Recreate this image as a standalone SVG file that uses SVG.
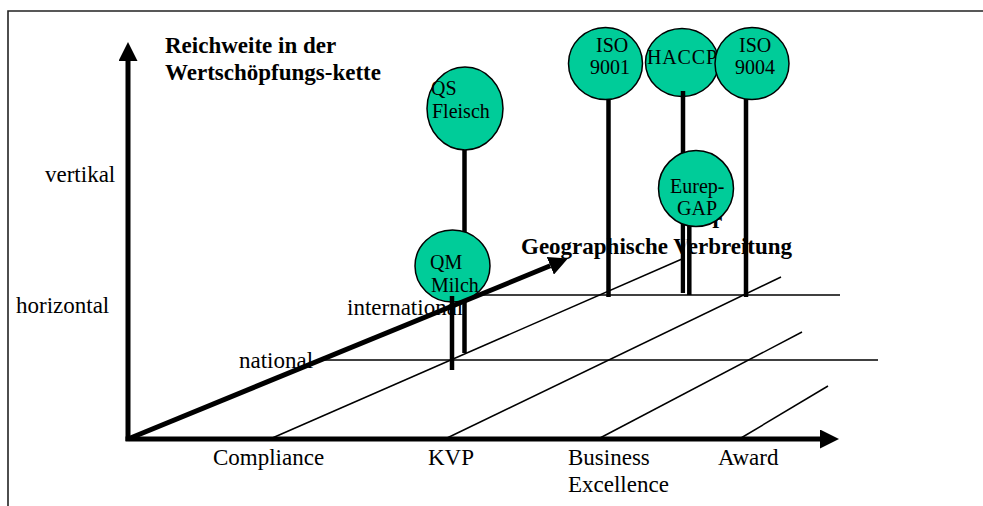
<svg xmlns="http://www.w3.org/2000/svg" width="983" height="506" viewBox="0 0 983 506">
<style>
text{font-family:"Liberation Serif","Times New Roman",serif;fill:#000}
.lab{font-size:23px}
.head{font-size:23px;font-weight:bold}
.nt{font-size:20px}
.thin{stroke:#000;stroke-width:1.5;fill:none}
.axis{stroke:#000;stroke-width:5;fill:none;marker-end:url(#ah)}
.stem{stroke:#000;stroke-width:4.5}
.bub{fill:#00CC99;stroke:#000;stroke-width:1.5}
</style>
<defs>
<marker id="ah" markerUnits="userSpaceOnUse" viewBox="0 0 19 19" markerWidth="19" markerHeight="19" refX="0" refY="9.5" orient="auto">
<path d="M0,0 L19,9.5 L0,19 z" fill="#000"/>
</marker>
</defs>
<rect width="983" height="506" fill="#fff"/>
<g id="frame">
<path d="M8,506 V11 H983" fill="none" stroke="#222" stroke-width="1.6"/>
</g>
<g id="grid">
<line class="thin" x1="479" y1="295" x2="840" y2="295"/>
<line class="thin" x1="322" y1="360" x2="878" y2="360"/>
<line class="thin" x1="270" y1="439" x2="682" y2="259"/>
<line class="thin" x1="445" y1="439" x2="781" y2="277"/>
<line class="thin" x1="600" y1="438" x2="802" y2="332"/>
<line class="thin" x1="741" y1="438" x2="828" y2="386"/>
</g>
<g id="labels">
<text class="head" x="165" y="53">Reichweite in der</text>
<text class="head" x="165" y="80">Wertschöpfungs-kette</text>
<text class="lab" x="45" y="182">vertikal</text>
<text class="lab" x="16" y="313">horizontal</text>
<text class="lab" x="347" y="315">international</text>
<text class="lab" x="239" y="368">national</text>
<text class="head" x="521" y="254">Geographische Verbreitung</text>
<text class="head" x="712" y="228">r</text>
<text class="lab" x="213" y="465">Compliance</text>
<text class="lab" x="428" y="465">KVP</text>
<text class="lab" x="568" y="465">Business</text>
<text class="lab" x="568" y="492">Excellence</text>
<text class="lab" x="718" y="465">Award</text>
</g>
<g id="node-qs-fleisch">
<line class="stem" x1="464.5" y1="148" x2="464.5" y2="353"/>
<ellipse class="bub" cx="465" cy="108.5" rx="38" ry="41.5"/>
<text class="nt" x="431" y="95">QS</text>
<text class="nt" x="432" y="118">Fleisch</text>
</g>
<g id="node-iso9001">
<line class="stem" x1="608.5" y1="97" x2="608.5" y2="297"/>
<ellipse class="bub" cx="605.5" cy="63.5" rx="37" ry="36"/>
<text class="nt" x="596" y="52">ISO</text>
<text class="nt" x="590" y="74">9001</text>
</g>
<g id="node-haccp">
<ellipse class="bub" cx="682" cy="62.5" rx="36.5" ry="34"/>
<text class="nt" x="647" y="64" textLength="70">HACCP</text>
<line class="stem" x1="683" y1="91" x2="683" y2="293"/>
</g>
<g id="node-iso9004">
<line class="stem" x1="746" y1="97" x2="746" y2="297"/>
<ellipse class="bub" cx="752" cy="63.5" rx="37" ry="36"/>
<text class="nt" x="739" y="52">ISO</text>
<text class="nt" x="735" y="74">9004</text>
</g>
<g id="node-eurep-gap">
<line stroke="#fff" stroke-width="1.5" x1="686" y1="226" x2="686" y2="293"/>
<line class="stem" x1="689.3" y1="222" x2="689.3" y2="295"/>
<ellipse class="bub" cx="696" cy="188.5" rx="37.5" ry="38"/>
<text class="nt" x="670" y="193">Eurep-</text>
<text class="nt" x="677" y="215">GAP</text>
</g>
<g id="node-qm-milch">
<ellipse class="bub" cx="452.5" cy="266" rx="37.5" ry="36"/>
<text class="nt" x="430" y="269">QM</text>
<text class="nt" x="431" y="292">Milch</text>
</g>
<g id="axes">
<line class="axis" x1="128" y1="441" x2="128" y2="61"/>
<line class="axis" x1="125.5" y1="439" x2="820" y2="439"/>
<line class="axis" stroke-width="6" x1="128" y1="439" x2="550.3" y2="265.8"/>
</g>
<g id="qm-milch-stem">
<line class="stem" x1="452" y1="296" x2="452" y2="370"/>
</g>
</svg>
